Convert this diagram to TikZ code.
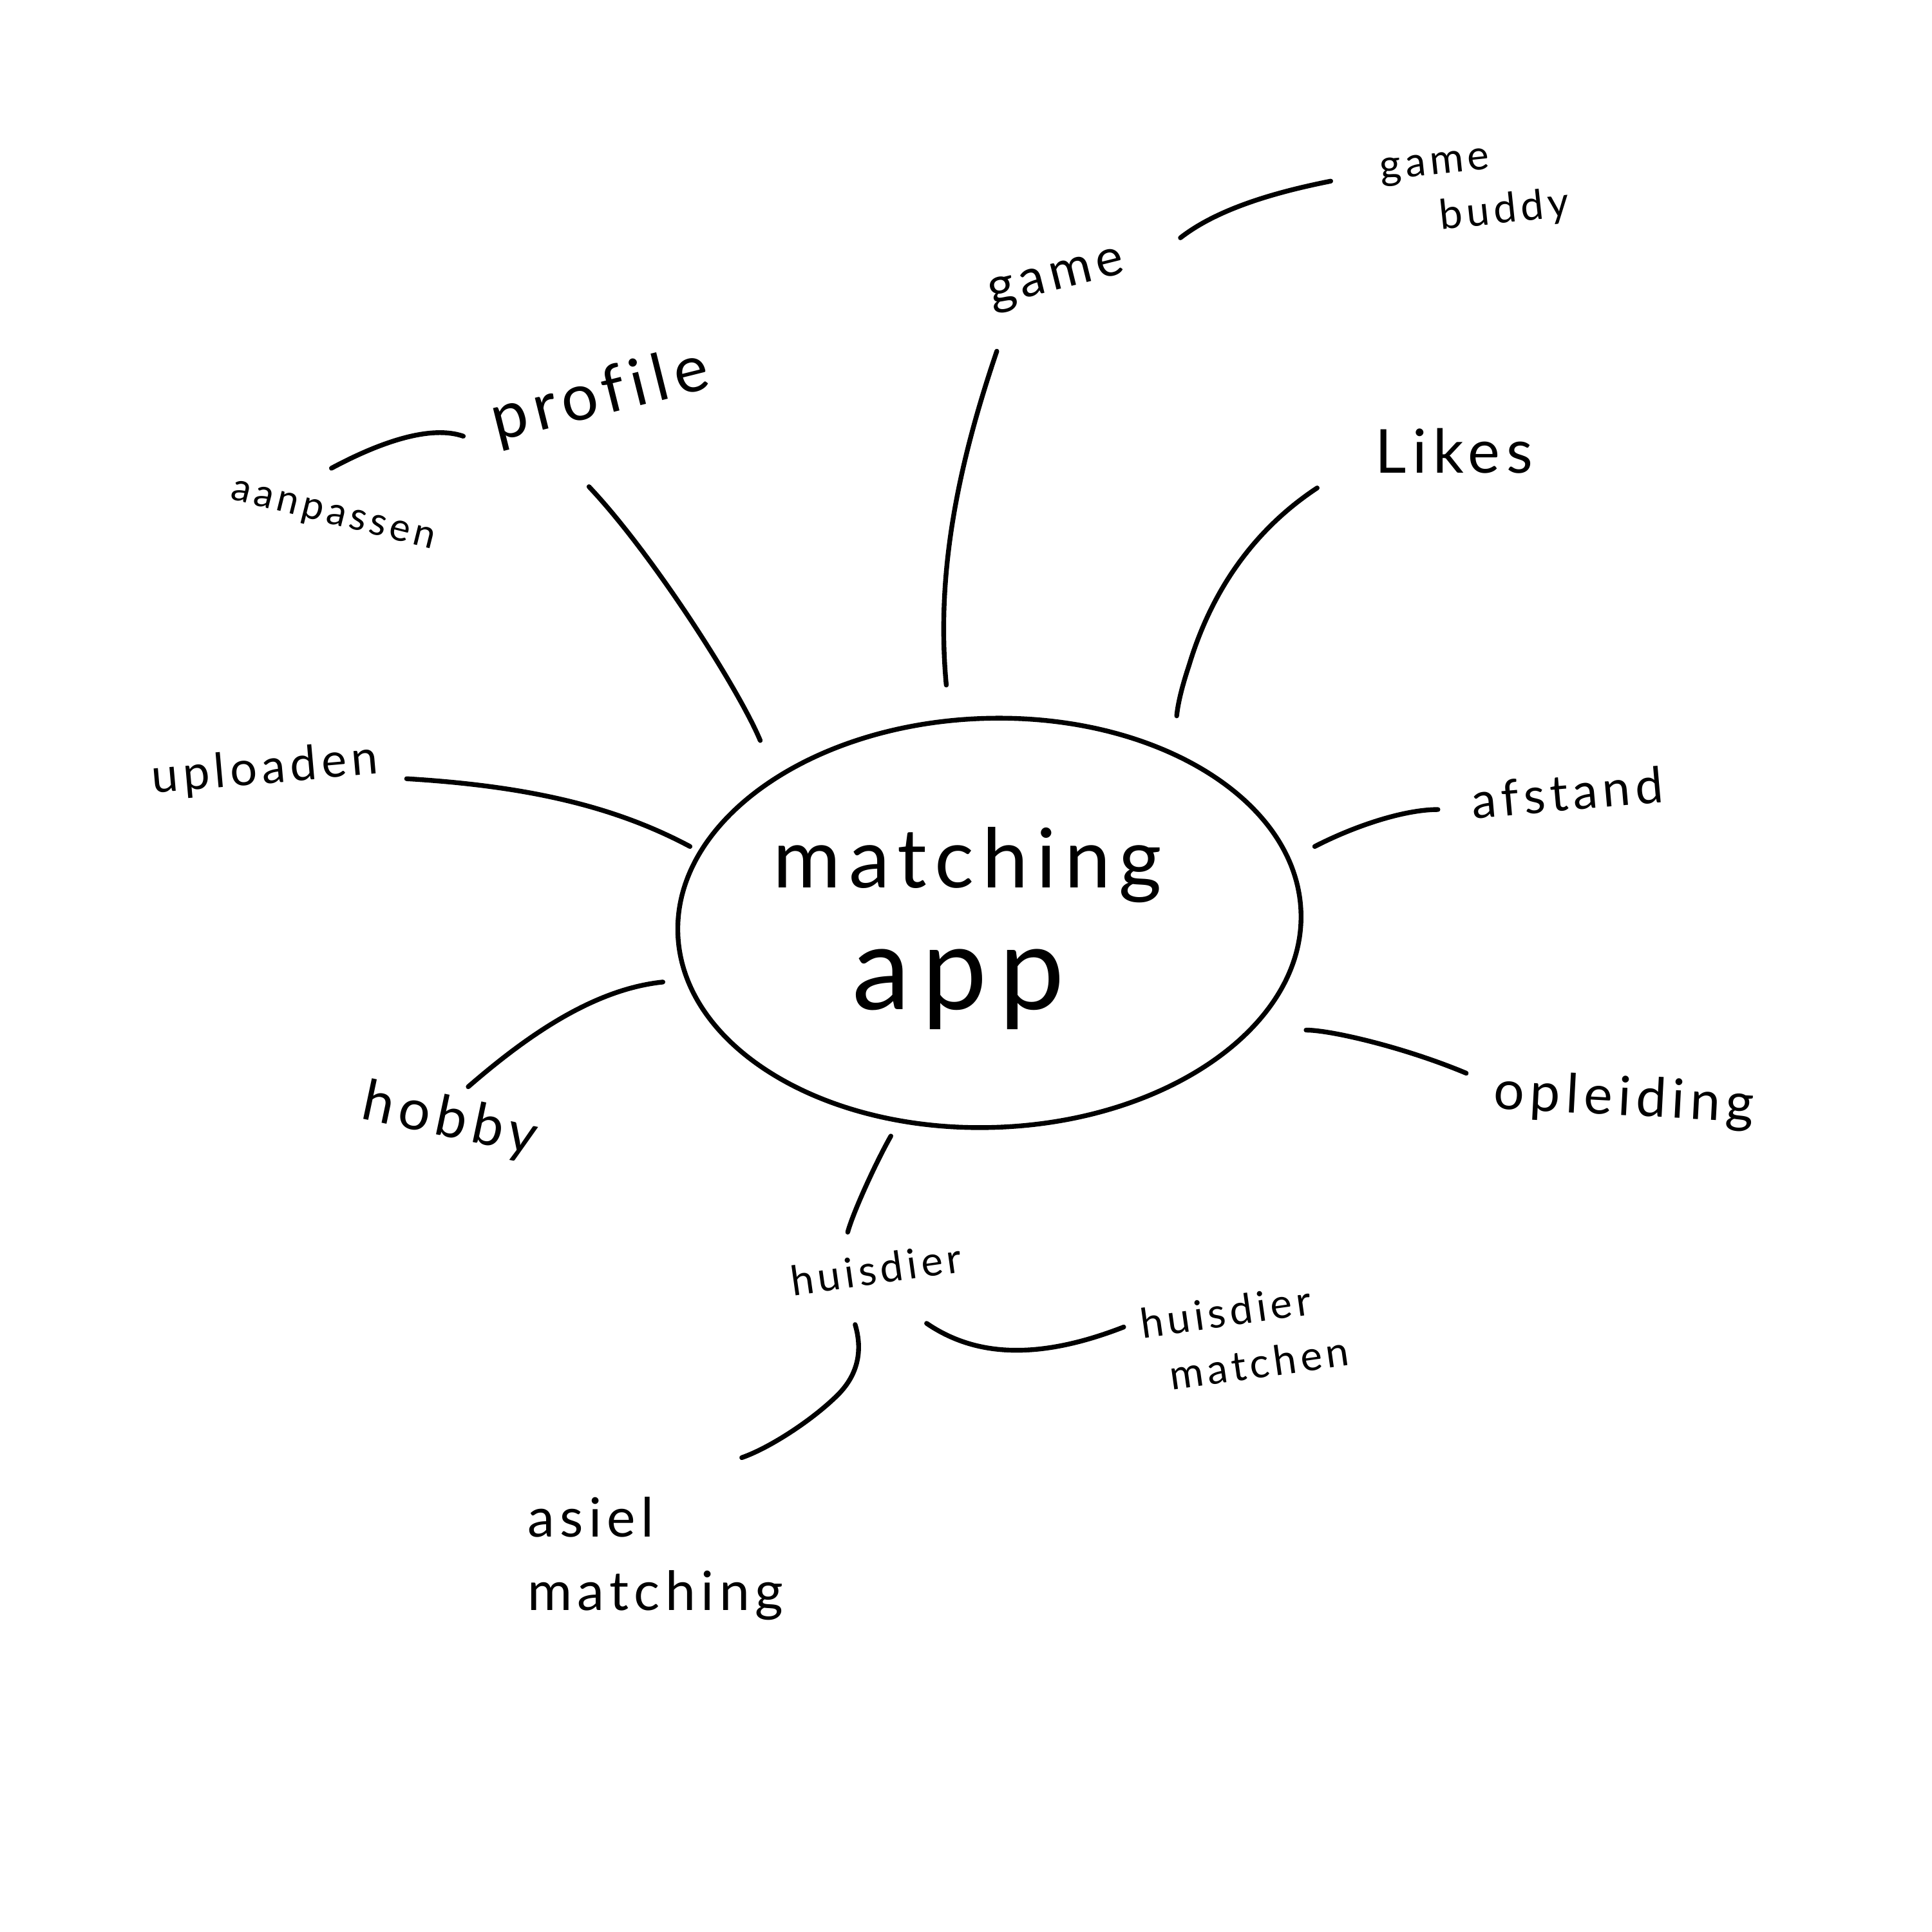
\documentclass[tikz,border=0pt]{standalone}
\usepackage{fontspec}
\usetikzlibrary{shapes.geometric}
\setmainfont{Lato}[LetterSpace=10, Ligatures=NoCommon]
\tikzset{
  conn/.style={line width=2.2pt, line cap=round, line join=round},
  lbl/.style={inner sep=0pt, align=left},
}
\newcommand{\fs}[1]{\fontsize{#1}{1.35\dimexpr #1pt\relax}\selectfont}
\begin{document}
\begin{tikzpicture}[x=0.2mm, y=-0.2mm]
\useasboundingbox (0,0) rectangle (1568,1568);
% central ellipse
\node[draw, line width=2.2pt, ellipse, minimum width=101.2mm, minimum height=66.4mm, inner sep=0pt, rotate=2] (center) at (803,749) {};
\node[lbl, font=\fs{38}] (matching) at (785,702) {matching};
\node[lbl, font=\fs{54}] (app) at (778,803) {app};

% labels
\node[lbl, font=\fs{30}, rotate=14] (profile) at (487,322) {profile};
\node[lbl, font=\fs{18}, rotate=-14] (aanpassen) at (270,420) {aanpassen};
\node[lbl, font=\fs{22}, rotate=5] (uploaden) at (215,625) {uploaden};
\node[lbl, font=\fs{26}, rotate=-12] (hobby) at (365,910) {hobby};
\node[lbl, font=\fs{19}, rotate=8] (huisdier) at (711,1030) {huisdier};
\node[lbl, font=\fs{19}, rotate=8] (hmatchen) at (1010,1085) {huisdier\\\hspace*{10pt}matchen};
\node[lbl, font=\fs{25}] (asiel) at (532,1265) {asiel\\matching};
\node[lbl, font=\fs{24}, rotate=14] (game) at (858,228) {game};
\node[lbl, font=\fs{19}, rotate=6] (buddy) at (1197,155) {game\\\hspace*{25pt}buddy};
\node[lbl, font=\fs{28}] (likes) at (1180,366) {Likes};
\node[lbl, font=\fs{23}, rotate=5] (afstand) at (1272,643) {afstand};
\node[lbl, font=\fs{25}, rotate=-3] (opleiding) at (1318,893) {opleiding};

% connector end points
\coordinate (c-profile) at (617,601);
\coordinate (e-profile) at (478,395);
\coordinate (a-aan) at (269,380);
\coordinate (b-aan) at (376,354);
\coordinate (e-upl) at (330,632);
\coordinate (c-upl) at (560,687);
\coordinate (e-hob) at (380,882);
\coordinate (c-hob) at (538,797);
\coordinate (c-hui) at (723,922);
\coordinate (e-hui) at (688,1000);
\coordinate (h-asi) at (694,1075);
\coordinate (e-asi) at (602,1183);
\coordinate (h-hm) at (752,1074);
\coordinate (e-hm) at (912,1077);
\coordinate (e-game) at (809,285);
\coordinate (c-game) at (768,556);
\coordinate (g-bud) at (958,193);
\coordinate (e-bud) at (1080,147);
\coordinate (e-lik) at (1069,396);
\coordinate (c-lik) at (955,581);
\coordinate (c-afs) at (1067,687);
\coordinate (e-afs) at (1167,657);
\coordinate (c-opl) at (1060,836);
\coordinate (e-opl) at (1190,871);

% connectors
\draw[conn] (e-profile) .. controls (530,450) and (600,560) .. (c-profile);
\draw[conn] (a-aan) .. controls (310,358) and (350,345) .. (b-aan);
\draw[conn] (e-upl) .. controls (430,638) and (500,655) .. (c-upl);
\draw[conn] (e-hob) .. controls (425,843) and (480,803) .. (c-hob);
\draw[conn] (c-hui) .. controls (710,945) and (692,985) .. (e-hui);
\draw[conn] (h-asi) .. controls (700,1095) and (697,1115) .. (680,1132) .. controls (660,1152) and (625,1175) .. (e-asi);
\draw[conn] (h-hm) .. controls (790,1100) and (840,1105) .. (e-hm);
\draw[conn] (e-game) .. controls (775,385) and (760,470) .. (c-game);
\draw[conn] (g-bud) .. controls (990,168) and (1040,155) .. (e-bud);
\draw[conn] (e-lik) .. controls (1010,435) and (980,490) .. (965,540) .. controls (960,555) and (956,570) .. (c-lik);
\draw[conn] (c-afs) .. controls (1100,670) and (1140,657) .. (e-afs);
\draw[conn] (c-opl) .. controls (1080,836) and (1140,850) .. (e-opl);
\end{tikzpicture}
\end{document}
